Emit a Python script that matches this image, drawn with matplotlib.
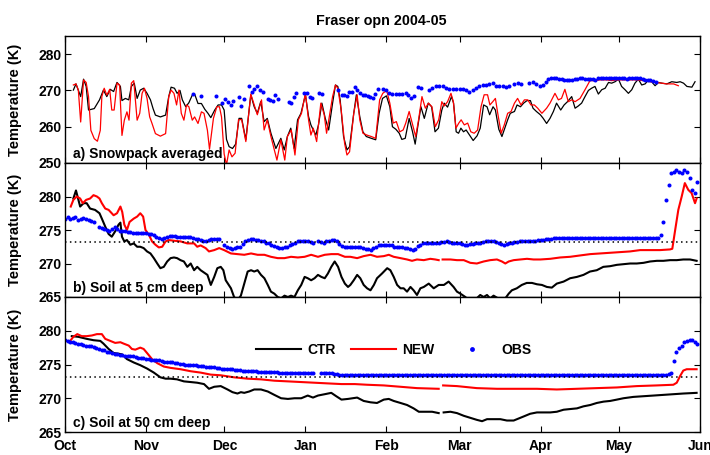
import matplotlib
matplotlib.use('Agg')
import matplotlib.pyplot as plt
import matplotlib.dates as mdates
import numpy as np
from datetime import datetime

nan = np.nan

# days since 1 Oct 2004, temperatures in K
# ---- a) snowpack averaged
a_ctr_day = [3.2, 4.2, 6.0, 7.1, 8.1, 9.0, 11.2, 13.2, 14.7, 16.0,
             17.3, 18.6, 19.9, 21.2, 21.8, 23.1, 24.4, 25.4, 26.5, 27.6,
             28.8, 30.1, 31.4, 32.7, 33.7, 34.6, 36.5, 38.5, 39.7, 40.6,
             41.9, 42.9, 44.0, 44.9, 46.2, 47.4, 48.7, 49.6, 50.9, 52.2,
             53.5, 54.7, 55.8, 57.3, 58.6, 59.9, 60.9, 61.8, 62.8, 64.1,
             65.3, 66.6, 67.6, 69.2, 71.1, 72.4, 73.6, 74.9, 76.2, 77.4,
             78.8, 80.7, 82.6, 83.9, 85.1, 86.4, 87.7, 89.0, 90.3, 92.0,
             93.2, 94.1, 95.0, 96.0, 97.0, 98.3, 99.6, 100.9, 102.4, 103.5,
             104.4, 105.3, 106.6, 107.9, 108.9, 110.5, 111.5, 112.8, 114.0, 115.3,
             117.2, 118.9, 120.2, 121.5, 123.0, 124.3, 125.3, 126.6, 127.9, 128.9,
             130.2, 131.7, 133.0, 134.0, 134.9, 136.2, 137.5, 139.0, 140.3, 141.6,
             142.9, 144.2, 145.1, 146.4, 147.9, 148.7, 149.7, 150.6, 151.5, 152.5,
             153.5, 154.8, 156.2, 157.7, 158.9, 160.2, 161.5, 162.5, 163.8, 164.7,
             166.0, 167.2, 168.5, 169.4, 170.4, 172.0, 173.0, 174.3, 175.5, 176.8,
             178.1, 179.1, 180.4, 181.9, 183.0, 184.3, 185.6, 186.9, 188.1, 189.7,
             191.0, 192.3, 193.9, 195.2, 196.4, 197.7, 199.0, 200.3, 201.5, 202.8,
             204.1, 205.4, 206.7, 208.0, 209.2, 210.5, 211.8, 213.0, 214.3, 215.6,
             216.9, 218.1, 219.4, 220.7, 222.0, 223.3, 224.5, 225.8, 227.1, 228.4,
             230.3, 232.2, 234.1, 235.4, 236.7, 238.0, 239.9, 241.1]
a_ctr_K = [270.1, 271.8, 268.3, 273.1, 271.1, 264.6, 265.0, 267.4, 270.1, 268.3,
           270.3, 269.7, 272.2, 271.1, 267.2, 267.8, 267.4, 271.1, 272.0, 267.8,
           270.1, 270.6, 269.2, 267.4, 265.0, 263.2, 262.7, 263.2, 268.3, 270.9,
           270.6, 269.2, 270.0, 267.4, 265.5, 266.6, 268.7, 269.0, 266.4, 266.4,
           264.8, 263.7, 262.5, 264.6, 266.0, 266.0, 264.6, 256.5, 254.5, 254.0,
           255.2, 262.3, 262.3, 256.4, 268.8, 265.5, 263.7, 266.9, 261.4, 262.3,
           258.2, 254.0, 256.8, 253.6, 257.3, 259.6, 254.0, 261.9, 263.7, 268.8,
           262.8, 260.5, 259.1, 257.7, 260.5, 266.5, 262.3, 259.1, 266.5, 271.5,
           271.1, 267.4, 257.3, 253.6, 254.5, 263.7, 268.8, 262.8, 258.6, 257.3,
           256.8, 256.4, 263.7, 267.8, 268.5, 265.5, 260.0, 259.3, 258.2, 256.5,
           256.8, 262.3, 258.6, 255.2, 259.6, 265.5, 262.3, 266.5, 265.5, 258.6,
           259.6, 264.6, 266.5, 265.4, 268.3, 266.5, 258.6, 258.2, 259.6, 258.6,
           259.1, 257.7, 256.2, 257.5, 259.6, 266.0, 265.5, 263.3, 265.5, 264.6,
           259.3, 257.3, 260.0, 261.9, 263.7, 264.2, 266.0, 265.5, 266.5, 267.2,
           267.2, 265.1, 264.2, 263.3, 262.3, 260.9, 262.3, 264.2, 266.5, 264.6,
           266.0, 266.9, 268.3, 265.1, 265.7, 266.5, 268.3, 270.0, 270.6, 271.1,
           269.0, 270.2, 270.6, 272.2, 272.0, 272.4, 273.1, 271.1, 270.2, 269.2,
           270.2, 272.0, 273.1, 271.5, 271.8, 272.9, 272.4, 271.3, 272.2, 272.0,
           271.8, 272.4, 272.2, 272.4, 272.0, 271.1, 270.9, 272.4]

a_new_day = [3.2, 4.2, 5.1, 6.0, 7.1, 8.1, 9.0, 9.9, 11.2, 12.4,
             13.5, 14.1, 15.0, 16.0, 17.1, 17.9, 18.8, 19.9, 20.9, 21.8,
             22.7, 23.7, 24.5, 25.4, 26.3, 27.6, 28.6, 29.5, 30.4, 31.4,
             32.4, 33.3, 34.6, 36.5, 38.5, 39.7, 40.6, 41.7, 42.7, 43.6,
             44.5, 45.5, 46.5, 47.4, 48.7, 49.6, 50.9, 52.2, 53.2, 54.5,
             55.3, 56.8, 58.1, 59.1, 59.9, 60.9, 61.8, 62.8, 63.9, 65.1,
             66.4, 67.6, 69.2, 71.1, 72.4, 73.6, 75.2, 76.2, 77.4, 78.8,
             81.1, 82.6, 84.1, 85.1, 86.6, 88.0, 89.3, 90.5, 92.0, 93.2,
             94.1, 95.0, 96.3, 97.9, 99.2, 100.1, 102.4, 103.5, 104.4, 105.7,
             107.0, 107.9, 108.9, 110.5, 111.8, 112.8, 114.0, 115.5, 117.2, 118.9,
             120.4, 121.6, 123.1, 124.3, 125.6, 126.8, 128.1, 129.4, 130.4, 131.7,
             133.2, 134.2, 135.3, 136.6, 137.9, 139.1, 140.4, 141.7, 143.0, 144.2,
             145.1, 146.4, 147.7, 148.6, 149.6, 150.7, 151.6, 152.8, 154.1, 155.3,
             156.6, 157.9, 159.2, 160.4, 161.7, 162.6, 163.7, 164.7, 165.6, 166.9,
             168.1, 169.4, 170.7, 172.0, 173.2, 174.5, 175.8, 177.1, 178.3, 179.6,
             180.9, 182.5, 184.3, 185.6, 187.5, 188.8, 190.0, 191.3, 192.6, 193.9,
             195.2, 197.1, 199.0, 200.9, 202.8, 204.7, 207.3, 209.2, 211.1, 213.7,
             216.2, 218.8, 221.4, 223.9, 226.4, 228.4, 230.3, 232.9, 234.7]
a_new_K = [271.5, 271.8, 270.1, 261.3, 272.9, 272.2, 268.3, 259.0, 256.7, 256.0,
           259.0, 268.3, 270.6, 268.7, 270.3, 264.6, 264.6, 272.0, 271.5, 257.6,
           261.8, 264.1, 261.8, 272.0, 272.7, 261.8, 263.7, 269.2, 270.6, 267.8,
           262.7, 260.9, 258.1, 257.4, 258.1, 268.3, 270.1, 269.2, 266.0, 270.1,
           263.7, 261.8, 266.0, 265.5, 261.8, 262.7, 260.9, 264.1, 263.7, 259.0,
           253.8, 262.3, 265.5, 265.5, 262.7, 252.5, 249.5, 253.6, 251.7, 252.7,
           261.9, 262.0, 255.9, 269.0, 266.0, 263.3, 267.4, 259.1, 261.9, 257.3,
           250.8, 256.4, 250.8, 257.3, 259.1, 252.2, 261.9, 263.7, 269.2, 261.9,
           257.7, 259.6, 255.9, 266.5, 263.3, 258.2, 268.3, 271.5, 270.6, 264.6,
           255.4, 252.2, 253.1, 263.7, 268.8, 261.9, 258.2, 257.7, 257.3, 256.8,
           267.4, 269.2, 270.0, 266.5, 261.0, 261.4, 258.6, 259.1, 261.0, 264.2,
           260.0, 257.3, 261.9, 268.3, 265.1, 266.5, 265.5, 260.0, 261.9, 266.9,
           265.7, 266.9, 269.2, 266.9, 259.6, 261.0, 261.9, 260.5, 261.0, 258.6,
           258.2, 259.1, 265.5, 268.8, 268.8, 266.0, 266.9, 267.8, 263.7, 258.2,
           260.5, 263.7, 264.2, 266.5, 267.8, 266.0, 267.4, 267.4, 266.0, 266.0,
           265.1, 263.7, 265.1, 266.5, 269.2, 267.4, 267.8, 270.3, 266.9, 267.4,
           266.9, 267.8, 270.2, 272.7, 272.7, 272.9, 272.9, 272.7, 272.9, 272.9,
           272.9, 272.9, 272.7, 272.4, 272.2, 272.0, 271.8, 271.8, 271.3]

a_obs_day = [49.0, 52.2, 57.6, 59.9, 61.4, 62.2, 63.5, 64.4, 66.4, 67.3,
             68.5, 70.4, 71.4, 72.4, 73.6, 74.8, 75.7, 77.7, 78.6, 79.6,
             80.5, 81.6, 85.6, 86.6, 87.5, 88.5, 91.5, 92.7, 93.7, 94.7,
             97.3, 98.4, 104.6, 105.9, 106.9, 107.9, 108.8, 109.8, 110.8, 111.7,
             112.7, 114.0, 114.9, 115.9, 116.8, 117.8, 118.7, 119.7, 121.6, 123.0,
             124.0, 125.3, 126.6, 127.9, 129.0, 130.4, 131.4, 132.3, 133.6, 134.9,
             136.2, 139.4, 140.6, 141.9, 143.2, 144.5, 145.8, 147.0, 148.3, 149.6,
             151.1, 152.4, 153.4, 154.7, 156.0, 157.3, 158.5, 159.8, 161.1, 162.4,
             163.7, 164.9, 166.2, 167.5, 168.8, 170.0, 172.0, 173.2, 174.5, 177.7,
             179.0, 180.3, 181.7, 183.0, 184, 185, 186, 187, 188, 189,
             190, 191, 192, 193, 194, 195, 196, 197, 198, 199,
             200, 201, 202, 203, 204, 205, 206, 207, 208, 209,
             210, 211, 212, 213, 214, 215, 216, 217, 218, 219,
             220, 221, 222, 223, 224, 225, 226]
a_obs_K = [269.0, 268.6, 268.5, 266.5, 267.7, 266.9, 266.0, 267.1, 268.1, 265.7,
           267.7, 271.3, 269.7, 270.4, 271.3, 270.2, 269.7, 267.7, 267.4, 267.1,
           268.8, 267.7, 266.9, 266.5, 268.1, 269.2, 269.2, 269.4, 268.3, 267.8,
           269.4, 269.0, 270.2, 268.8, 268.8, 268.6, 269.7, 269.5, 270.9, 270.0,
           269.2, 268.8, 268.8, 268.6, 268.3, 267.8, 269.0, 270.3, 270.3, 270.0,
           269.2, 269.0, 269.0, 268.9, 269.0, 269.2, 268.8, 267.8, 268.5, 270.9,
           270.6, 270.0, 270.6, 271.1, 271.3, 271.3, 270.6, 270.3, 270.4, 270.3,
           270.4, 270.4, 270.0, 269.7, 270.0, 270.6, 271.3, 271.5, 271.5, 271.8,
           272.0, 271.3, 271.1, 271.3, 270.9, 271.3, 271.8, 272.0, 271.8, 272.0,
           272.2, 271.8, 271.3, 271.5, 272.4, 273.2, 273.4, 273.4, 273.3, 273.1,
           273.1, 273.0, 272.9, 272.8, 272.8, 273.1, 273.2, 273.4, 273.3, 273.2,
           273.1, 273.1, 273.1, 273.0, 273.3, 273.4, 273.4, 273.3, 273.4, 273.4,
           273.3, 273.4, 273.4, 273.4, 273.3, 273.2, 273.3, 273.4, 273.4, 273.4,
           273.3, 273.1, 273.0, 272.9, 272.8, 272.5, 272.4]

# ---- b) soil at 5 cm
b_ctr_day = [3.2, 4.2, 5.8, 7.1, 8.3, 9.6, 11.5, 13.2, 14.1, 15.4,
             16.7, 17.9, 19.2, 20.5, 21.2, 21.8, 22.7, 23.7, 25.0, 26.3,
             27.6, 28.8, 30.1, 31.4, 32.7, 34.0, 35.3, 36.5, 37.8, 39.1,
             40.4, 41.7, 42.9, 44.2, 45.5, 46.8, 48.1, 49.4, 50.6, 51.9,
             54.5, 55.8, 57.1, 58.3, 59.6, 60.6, 61.5, 63.5, 64.7, 66.0,
             67.3, 68.6, 69.9, 71.2, 72.4, 73.7, 75.0, 76.3, 77.6, 78.8,
             80.1, 81.4, 82.7, 84.0, 85.3, 86.5, 87.8, 89.1, 90.4, 91.7,
             92.9, 94.2, 95.5, 96.8, 98.1, 99.4, 100.6, 101.9, 103.2, 104.5,
             105.8, 107.1, 108.3, 109.2, 110.5, 111.8, 113.0, 114.3, 115.6, 116.9,
             118.2, 119.4, 121.3, 123.3, 124.5, 125.8, 127.1, 128.4, 129.6, 130.9,
             132.2, 133.4, 134.7, 136.0, 137.3, 139.2, 141.1, 143.0, 145.0, 146.8,
             148.7, 150.0, 151.3, 153.2, 155.1, 157.0, 158.9, 160.2, 161.5, 162.7,
             164.0, 165.3, 167.2, 168.5, 169.8, 171.0, 172.9, 174.8, 176.7, 178.7,
             180.6, 182.5, 184.4, 186.3, 188.2, 190.8, 193.3, 195.9, 198.4, 200.9,
             203.5, 206.0, 208.6, 211.2, 213.7, 216.3, 218.8, 221.4, 223.9, 226.5,
             229.0, 231.6, 234.1, 236.6, 239.2, 241.7]
b_ctr_K = [279.7, 280.9, 278.5, 279.0, 279.0, 278.2, 278.0, 277.5, 276.7, 275.5,
           274.4, 274.0, 274.8, 275.8, 276.1, 274.0, 273.3, 273.5, 272.8, 273.0,
           272.5, 272.5, 272.3, 271.8, 271.5, 270.8, 270.0, 269.3, 269.5, 270.3,
           270.8, 270.9, 270.8, 270.5, 270.3, 269.5, 270.0, 269.0, 269.5, 269.0,
           268.3, 266.8, 268.0, 269.3, 269.5, 269.0, 267.5, 266.3, 265.0, 264.5,
           265.2, 267.0, 268.8, 269.0, 268.8, 269.0, 268.3, 267.8, 266.8, 265.8,
           265.5, 265.0, 264.8, 265.2, 265.0, 265.2, 265.0, 266.0, 266.8, 268.0,
           267.8, 267.5, 267.8, 268.3, 268.0, 267.8, 268.5, 269.5, 270.3, 269.5,
           268.0, 267.0, 266.5, 266.8, 267.5, 268.3, 267.8, 266.8, 266.3, 266.0,
           266.8, 267.8, 268.5, 269.3, 269.0, 268.0, 266.8, 266.3, 266.3, 265.8,
           266.5, 266.0, 265.3, 266.3, 266.5, 267.0, 266.3, 266.8, 266.8, 267.3,
           266.5, 265.8, 265.5, 265.0, 264.3, 264.6, 265.3, 265.0, 265.3, 264.8,
           265.2, 264.9, 264.5, 264.8, 265.5, 266.0, 266.3, 266.8, 267.1, 267.1,
           266.9, 266.8, 266.5, 266.4, 267.0, 267.3, 267.8, 268.0, 268.3, 268.8,
           269.0, 269.5, 269.6, 269.8, 269.9, 270.0, 270.0, 270.1, 270.3, 270.4,
           270.4, 270.5, 270.5, 270.6, 270.6, 270.4]

b_new_day = [2.2, 3.2, 4.5, 5.8, 6.8, 8.1, 9.6, 10.9, 12.2, 13.2,
             14.1, 15.4, 16.7, 18.6, 19.9, 21.2, 21.9, 22.7, 23.7, 24.7,
             26.3, 27.6, 28.8, 29.9, 30.8, 32.1, 33.3, 34.6, 35.9, 37.2,
             38.5, 39.7, 41.7, 44.2, 46.8, 49.4, 50.6, 51.9, 53.8, 55.1,
             57.1, 59.0, 60.9, 63.5, 66.0, 68.6, 71.2, 73.7, 76.3, 78.8,
             81.4, 84.0, 86.5, 89.1, 91.7, 94.2, 96.8, 99.4, 101.9, 104.5,
             107.1, 109.2, 111.8, 114.3, 116.9, 119.4, 122.0, 123.9, 125.8, 128.4,
             130.9, 132.8, 134.7, 137.3, 139.8, 141.7, 143.0, 143.5, 144.5, 147.5,
             150.0, 152.6, 155.1, 157.6, 160.2, 162.7, 165.3, 167.2, 168.5, 169.8,
             171.7, 174.2, 176.8, 179.3, 181.9, 185.7, 189.5, 193.3, 197.1, 201.0,
             204.8, 208.6, 212.4, 216.2, 220.1, 223.9, 227.7, 231.5, 232.4, 233.5,
             234.7, 236.0, 237.2, 238.5, 239.8, 241.1, 241.7]
b_new_K = [278.5, 279.5, 280.0, 279.7, 279.0, 279.5, 279.7, 280.2, 280.0, 279.7,
           279.0, 278.2, 278.0, 277.2, 277.5, 278.5, 277.7, 275.8, 275.0, 276.2,
           276.7, 277.0, 277.5, 277.0, 275.0, 274.3, 273.3, 272.8, 272.4, 272.5,
           273.3, 273.5, 273.4, 273.3, 273.0, 273.0, 272.5, 272.7, 272.3, 271.8,
           272.0, 272.3, 272.0, 271.5, 271.4, 271.3, 271.5, 271.3, 271.3, 271.0,
           270.8, 270.8, 271.0, 270.9, 271.0, 271.3, 271.0, 271.3, 271.4, 271.4,
           271.0, 271.0, 270.8, 271.1, 271.3, 271.0, 271.1, 271.3, 271.0, 270.8,
           270.6, 270.4, 270.6, 270.5, 270.7, 270.6, 270.5, nan, 270.6, 270.6,
           270.5, 270.5, 270.1, 270.0, 270.3, 270.5, 270.6, 270.3, 270.0, 270.3,
           270.5, 270.6, 270.7, 270.6, 270.6, 270.7, 270.9, 271.0, 271.2, 271.4,
           271.5, 271.6, 271.7, 271.8, 272.0, 272.0, 272.0, 272.1, 272.2, 275.0,
           278.0, 280.0, 282.0, 281.0, 280.5, 279.0, 279.7]

# daily observations, 1 Oct 2004 - 31 May 2005
b_obs_K = [276.7, 276.9, 276.6, 276.8, 276.9, 276.5, 276.7, 276.8, 276.6, 276.5,
           276.4, 276.2, nan, 275.5, 275.3, 275.1, 275.0, 274.9, 275.2, 275.5,
           275.1, 274.8, 274.8, 274.8, 274.7, 274.7, 274.6, 274.6, 274.6, 274.5,
           274.5, 274.5, 274.4, 274.4, 274.3, 274.0, 273.8, 273.6, 273.8, 274.0,
           274.1, 274.1, 274.1, 274.0, 274.0, 274.0, 273.9, 273.9, 273.9, 273.8,
           273.7, 273.6, 273.5, 273.4, 273.4, 273.5, 273.6, 273.7, 273.6, 273.7,
           nan, 272.8, 272.5, 272.3, 272.2, 272.3, 272.5, 272.4, 272.9, 273.3,
           273.5, 273.6, 273.6, 273.5, 273.5, 273.4, 273.3, 273.1, 273.0, 272.8,
           272.6, 272.4, 272.3, 272.3, 272.4, 272.5, 272.7, 272.9, 273.1, 273.3,
           273.4, 273.4, 273.3, 273.3, 273.2, 273.1, nan, 273.3, 273.2, 273.1,
           273.3, 273.4, 273.5, 273.5, 273.3, 272.9, 272.6, 272.4, 272.4, 272.4,
           272.5, 272.5, 272.4, 272.4, 272.3, 272.2, 272.1, 272.0, 272.3, 272.5,
           272.7, 272.8, 272.8, 272.8, 272.8, 272.7, 272.5, 272.5, 272.4, 272.4,
           272.3, 272.3, 272.2, 272.0, 272.2, 272.6, 272.8, 273.0, 273.0, 273.0,
           273.0, 273.0, 273.1, 273.1, 273.2, 273.2, 273.3, 273.2, 273.1, 273.1,
           273.0, 273.0, 272.9, 272.8, 272.8, 272.9, 272.9, 273.0, 273.1, 273.1,
           273.2, 273.3, 273.3, 273.3, 273.3, 273.2, 273.0, 272.9, 272.8, 272.9,
           273.0, 273.1, 273.2, 273.2, 273.3, 273.3, 273.3, 273.4, 273.4, 273.4,
           273.4, 273.5, 273.5, 273.5, 273.6, 273.6, 273.7, 273.8, 273.8, 273.8,
           273.8, 273.8, 273.8, 273.8, 273.8, 273.8, 273.8, 273.8, 273.8, 273.8,
           273.8, 273.8, 273.8, 273.8, 273.8, 273.8, 273.8, 273.8, 273.8, 273.8,
           273.8, 273.8, 273.8, 273.8, 273.8, 273.8, 273.8, 273.8, 273.8, 273.8,
           273.8, 273.8, 273.8, 273.8, 273.8, 273.8, 273.8, 273.8, 274.3, 276.2,
           279.5, 281.7, 283.5, 283.7, 284.0, 283.7, 283.5, 284.0, 283.6, 282.7,
           281.0, 280.5, 282.2]

# ---- c) soil at 50 cm
c_ctr_day = [2.6, 5.1, 8.3, 10.9, 13.5, 14.7, 16.7, 18.6, 20.5, 21.8,
             23.7, 26.3, 28.8, 31.4, 34.0, 36.5, 38.5, 40.4, 42.9, 45.5,
             48.1, 50.6, 53.2, 55.1, 57.1, 59.6, 62.2, 64.1, 66.0, 67.3,
             68.6, 70.5, 72.4, 75.0, 77.6, 80.1, 82.7, 85.3, 87.8, 90.4,
             92.9, 94.9, 96.8, 99.4, 101.9, 103.8, 105.8, 108.3, 111.8, 114.3,
             116.9, 119.4, 122.0, 123.9, 125.8, 128.4, 130.9, 133.4, 135.4, 137.9,
             140.5, 143.0, 143.8, 144.9, 147.5, 150.0, 152.6, 155.1, 157.6, 159.6,
             161.5, 164.0, 166.6, 169.1, 171.7, 173.6, 175.5, 178.0, 180.6, 183.1,
             185.7, 188.2, 190.8, 193.3, 195.9, 198.4, 201.0, 203.5, 206.1, 208.6,
             211.2, 213.7, 217.5, 221.3, 225.2, 229.0, 232.8, 236.6, 241.7]
c_ctr_K = [279.2, 279.1, 278.8, 278.6, 278.5, 278.1, 277.3, 276.7, 276.6, 276.5,
           275.8, 275.3, 274.9, 274.4, 273.8, 273.1, 272.9, 272.9, 272.8, 272.5,
           272.4, 272.3, 272.1, 271.4, 271.7, 271.8, 271.3, 270.9, 270.7, 270.9,
           270.8, 271.0, 271.3, 271.3, 271.0, 270.5, 270.0, 269.9, 270.0, 270.0,
           270.4, 270.1, 270.4, 270.6, 270.8, 270.3, 269.8, 269.9, 270.1, 269.6,
           269.4, 269.3, 269.8, 269.9, 269.6, 269.3, 269.0, 268.5, 268.0, 268.0,
           268.0, 267.8, nan, 267.9, 268.0, 267.8, 267.4, 267.1, 266.8, 266.6,
           266.9, 266.9, 266.9, 266.7, 266.7, 267.0, 267.3, 267.7, 267.9, 267.9,
           267.9, 268.0, 268.3, 268.4, 268.5, 268.8, 269.0, 269.3, 269.5, 269.6,
           269.8, 270.0, 270.2, 270.3, 270.4, 270.5, 270.6, 270.7, 270.8]

c_new_day = [2.2, 3.2, 4.7, 6.4, 8.3, 10.3, 12.2, 14.1, 15.4, 17.3,
             19.2, 21.2, 22.4, 24.4, 25.6, 26.9, 28.8, 30.1, 31.4, 33.3,
             35.3, 37.8, 40.4, 44.2, 48.1, 51.9, 55.8, 59.6, 64.7, 69.9,
             75.0, 80.1, 85.3, 90.4, 95.5, 100.6, 105.8, 110.9, 115.6, 122.0,
             128.4, 134.7, 143.0, 143.8, 144.7, 150.0, 157.6, 165.3, 172.9, 180.6,
             188.2, 195.9, 203.5, 211.2, 218.8, 226.4, 232.8, 234.1, 235.4, 236.6,
             237.9, 239.2, 241.7]
c_new_K = [278.6, 279.1, 279.5, 279.2, 279.2, 279.3, 279.5, 279.5, 278.8, 278.5,
           278.2, 278.3, 278.1, 277.8, 277.3, 277.2, 277.5, 277.3, 276.7, 275.8,
           275.2, 274.7, 274.5, 274.3, 274.0, 273.8, 273.5, 273.4, 273.1, 272.9,
           272.8, 272.6, 272.5, 272.4, 272.3, 272.2, 272.1, 272.1, 272.0, 271.9,
           271.7, 271.5, 271.4, nan, 271.9, 271.8, 271.5, 271.4, 271.4, 271.4,
           271.3, 271.4, 271.5, 271.6, 271.8, 271.9, 272.0, 272.3, 273.3, 274.1,
           274.3, 274.3, 274.3]

c_obs_K = [278.7, 278.5, 278.4, 278.3, 278.2, 278.1, 278.0, 277.9, 277.8, 277.8,
           277.7, 277.6, 277.4, 277.3, 277.2, 277.1, 276.9, 276.8, 276.7, 276.6,
           276.5, 276.4, 276.4, 276.3, 276.3, 276.2, 276.2, 276.1, 276.0, 276.0,
           275.9, 275.8, 275.8, 275.7, 275.7, 275.6, 275.6, 275.5, 275.4, 275.4,
           275.3, 275.3, 275.2, 275.2, 275.1, 275.1, 275.0, 275.0, 274.9, 274.9,
           274.9, 274.8, 274.8, 274.8, 274.7, 274.7, 274.6, 274.6, 274.5, 274.5,
           274.4, 274.4, 274.4, 274.3, 274.3, 274.2, 274.2, 274.2, 274.1, 274.1,
           274.0, 274.0, 274.0, 274.0, 273.9, 273.9, 273.9, 273.9, 273.9, 273.9,
           273.9, 273.9, 273.8, 273.8, 273.8, 273.8, 273.8, 273.8, 273.8, 273.8,
           273.8, 273.8, 273.8, 273.8, 273.8, 273.8, nan, nan, 273.8, 273.8,
           273.7, 273.7, 273.7, 273.6, 273.6, 273.5, 273.5, 273.5, 273.5, 273.5,
           273.5, 273.5, 273.5, 273.5, 273.5, 273.5, 273.5, 273.5, 273.5, 273.5,
           273.5, 273.5, 273.5, 273.5, 273.5, 273.5, 273.5, 273.5, 273.5, 273.5,
           273.5, 273.5, 273.5, 273.5, 273.5, 273.5, 273.5, 273.5, 273.5, 273.5,
           273.5, 273.5, 273.5, 273.5, 273.5, 273.5, 273.5, 273.5, 273.5, 273.5,
           273.5, 273.5, 273.5, 273.5, 273.5, 273.5, 273.5, 273.5, 273.5, 273.5,
           273.5, 273.5, 273.5, 273.5, 273.5, 273.5, 273.5, 273.5, 273.5, 273.5,
           273.5, 273.5, 273.5, 273.5, 273.5, 273.5, 273.5, 273.5, 273.5, 273.5,
           273.5, 273.5, 273.5, 273.5, 273.5, 273.5, 273.5, 273.5, 273.5, 273.5,
           273.5, 273.5, 273.5, 273.5, 273.5, 273.5, 273.5, 273.5, 273.5, 273.5,
           273.5, 273.5, 273.5, 273.5, 273.5, 273.5, 273.5, 273.5, 273.5, 273.5,
           273.5, 273.5, 273.5, 273.5, 273.5, 273.5, 273.5, 273.5, 273.5, 273.5,
           273.5, 273.5, 273.5, 273.5, 273.5, 273.5, 273.5, 273.5, 273.5, 273.5,
           273.5, 273.6, 273.8, 275.5, 276.8, 277.5, 277.8, 278.3, 278.5, 278.7,
           278.7, 278.3, 278.0]

freezing = 273.15

plt.rcParams['font.family'] = ['Liberation Sans', 'DejaVu Sans']
plt.rcParams['font.weight'] = 'bold'
plt.rcParams['axes.labelweight'] = 'bold'

start = mdates.date2num(datetime(2004, 10, 1))


def t(days):
    return start + np.asarray(days, dtype=float)


fig = plt.figure(figsize=(7.1, 4.55), dpi=100)
W, H = 710.0, 455.0


def box(top, bottom):
    return [65 / W, 1 - bottom / H, 635 / W, (bottom - top) / H]


ax_a = fig.add_axes(box(36, 163))
ax_b = fig.add_axes(box(163, 297))
ax_c = fig.add_axes(box(297, 432))

ms = 2.9
# a)
ax_a.plot(t(a_ctr_day), a_ctr_K, color='k', lw=0.9, label='CTR')
ax_a.plot(t(a_new_day), a_new_K, color='#ff0000', lw=0.9, label='NEW')
ax_a.plot(t(a_obs_day), a_obs_K, 'o', color='#0000ff', ms=ms, mew=0, label='OBS')
# b)
ax_b.plot(t(b_ctr_day), b_ctr_K, color='k', lw=1.5)
ax_b.plot(t(b_new_day), b_new_K, color='#ff0000', lw=1.5)
ax_b.plot(t(np.arange(len(b_obs_K))), b_obs_K, 'o', color='#0000ff', ms=ms, mew=0)
# c)
ax_c.plot(t(c_ctr_day), c_ctr_K, color='k', lw=1.5, label='CTR')
ax_c.plot(t(c_new_day), c_new_K, color='#ff0000', lw=1.5, label='NEW')
ax_c.plot(t(np.arange(len(c_obs_K))), c_obs_K, 'o', color='#0000ff', ms=ms, mew=0, label='OBS')

for ax in (ax_b, ax_c):
    ax.axhline(freezing, color='k', ls=(0, (1, 2.2)), lw=1.1)

panels = [(ax_a, (250, 285), [250, 260, 270, 280], 'a) Snowpack averaged', 0.042),
          (ax_b, (265, 285), [265, 270, 275, 280], 'b) Soil at 5 cm deep', 0.040),
          (ax_c, (265, 285), [265, 270, 275, 280], 'c) Soil at 50 cm deep', 0.040)]
for ax, ylim, yt, lab, ty in panels:
    ax.set_xlim(t(0), t(243))
    ax.set_ylim(*ylim)
    ax.set_yticks(yt)
    ax.xaxis.set_major_locator(mdates.MonthLocator())
    ax.xaxis.set_major_formatter(mdates.DateFormatter('%b'))
    ax.tick_params(direction='in', top=True, right=True, length=4.5, width=0.8,
                   labelsize=10, pad=2.5)
    ax.set_ylabel('Temperature (K)', fontsize=10.5)
    ax.yaxis.set_label_coords(-0.068, 0.5)
    for s in ax.spines.values():
        s.set_linewidth(1.0)
    ax.text(0.0126, ty, lab, transform=ax.transAxes, fontsize=10,
            fontweight='bold', ha='left', va='baseline')

ax_a.tick_params(labelbottom=False)
ax_b.tick_params(labelbottom=False)
ax_c.tick_params(axis='x', pad=5)

ax_c.legend(loc='center', bbox_to_anchor=(0.517, 0.61), ncol=3, frameon=False,
            handlelength=3.3, columnspacing=1.1, handletextpad=0.4, numpoints=1,
            markerscale=1.2, prop={'weight': 'bold', 'size': 10})

fig.text(381 / W, 1 - 24.5 / H, 'Fraser opn 2004-05', ha='center', va='baseline',
         fontsize=10.3, fontweight='bold')

fig.savefig('out.png', dpi=100)
